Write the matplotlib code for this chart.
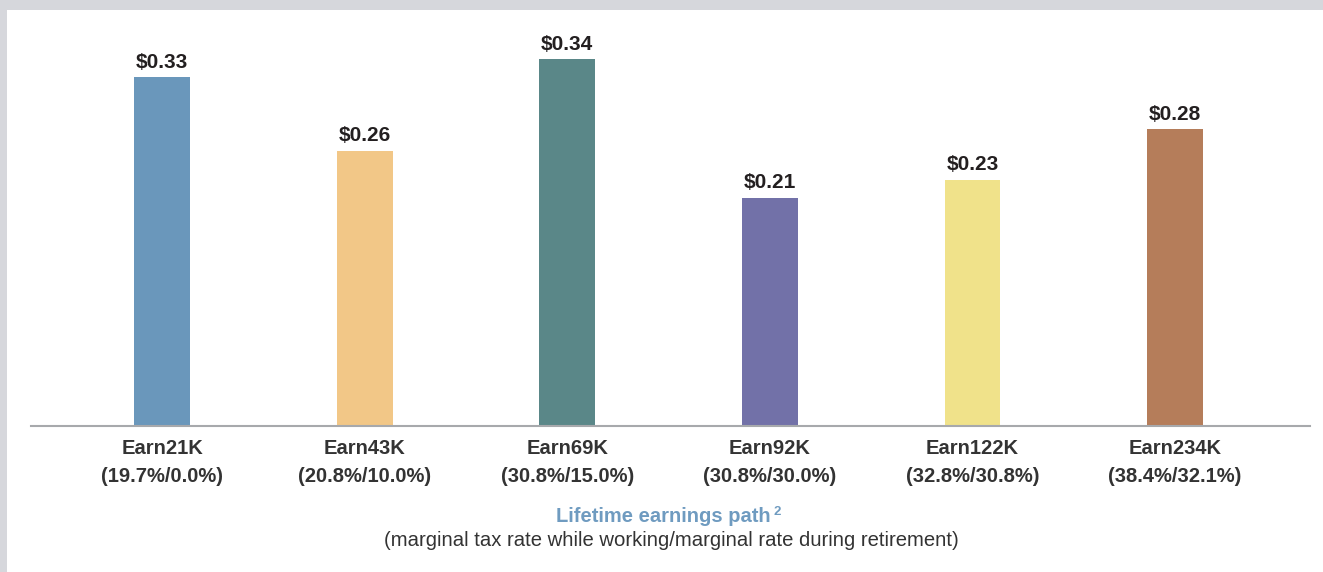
import matplotlib
matplotlib.use('Agg')

import matplotlib.pyplot as plt
from matplotlib.patches import Rectangle

# data
paths = ['Earn21K', 'Earn43K', 'Earn69K', 'Earn92K', 'Earn122K', 'Earn234K']
rates = ['(19.7%/0.0%)', '(20.8%/10.0%)', '(30.8%/15.0%)',
         '(30.8%/30.0%)', '(32.8%/30.8%)', '(38.4%/32.1%)']
values = [0.327, 0.258, 0.344, 0.214, 0.231, 0.278]
colors = ['#6a97bb', '#f2c787', '#5a8788', '#7271a8', '#f0e28a', '#b57d5a']

font = ['Liberation Sans', 'DejaVu Sans']
dark = '#231f20'

fig = plt.figure(figsize=(13.23, 5.72), dpi=100)

# light gray frame on top and left
fig.patches.append(Rectangle((0, 562 / 572), 1, 10 / 572, transform=fig.transFigure,
                             facecolor='#d6d7dc', edgecolor='none', zorder=0))
fig.patches.append(Rectangle((0, 0), 7 / 1323, 1, transform=fig.transFigure,
                             facecolor='#d6d7dc', edgecolor='none', zorder=0))

ax = fig.add_axes([31 / 1323, 146 / 572, 1279 / 1323, 416 / 572])
ax.patch.set_alpha(0)

x = list(range(len(values)))
bars = ax.bar(x, values, width=0.276, color=colors)

for b, v in zip(bars, values):
    ax.text(b.get_x() + b.get_width() / 2, v + 0.005, '$%.2f' % v,
            ha='center', va='bottom', fontsize=15, fontweight='bold',
            color=dark, family=font)

ax.set_xlim(-0.647, 5.666)
ax.set_ylim(0, 0.39)
ax.set_yticks([])
ax.set_xticks(x)
ax.set_xticklabels([p + '\n' + r for p, r in zip(paths, rates)],
                   fontsize=14.5, fontweight='bold', color='#333333',
                   family=font, linespacing=1.58)
ax.tick_params(axis='x', length=0, pad=9.5)

for s in ['top', 'right', 'left']:
    ax.spines[s].set_visible(False)
ax.spines['bottom'].set_color('#a7a9ac')
ax.spines['bottom'].set_linewidth(1.5)

# axis title, with superscript note marker
t = fig.text(663 / 1323, 1 - 517 / 572, 'Lifetime earnings path', ha='center',
             va='center', fontsize=14.5, fontweight='bold', color='#6f9bc0', family=font)
fig.canvas.draw()
bb = t.get_window_extent()
fig.text((bb.x1 + 3) / 1323, 1 - 512 / 572, '2', ha='left', va='center',
         fontsize=9.5, fontweight='bold', color='#6f9bc0', family=font)
fig.text(671 / 1323, 1 - 541 / 572,
         '(marginal tax rate while working/marginal rate during retirement)',
         ha='center', va='center', fontsize=14.6, color='#333333', family=font)

plt.savefig('out.png', dpi=100)
